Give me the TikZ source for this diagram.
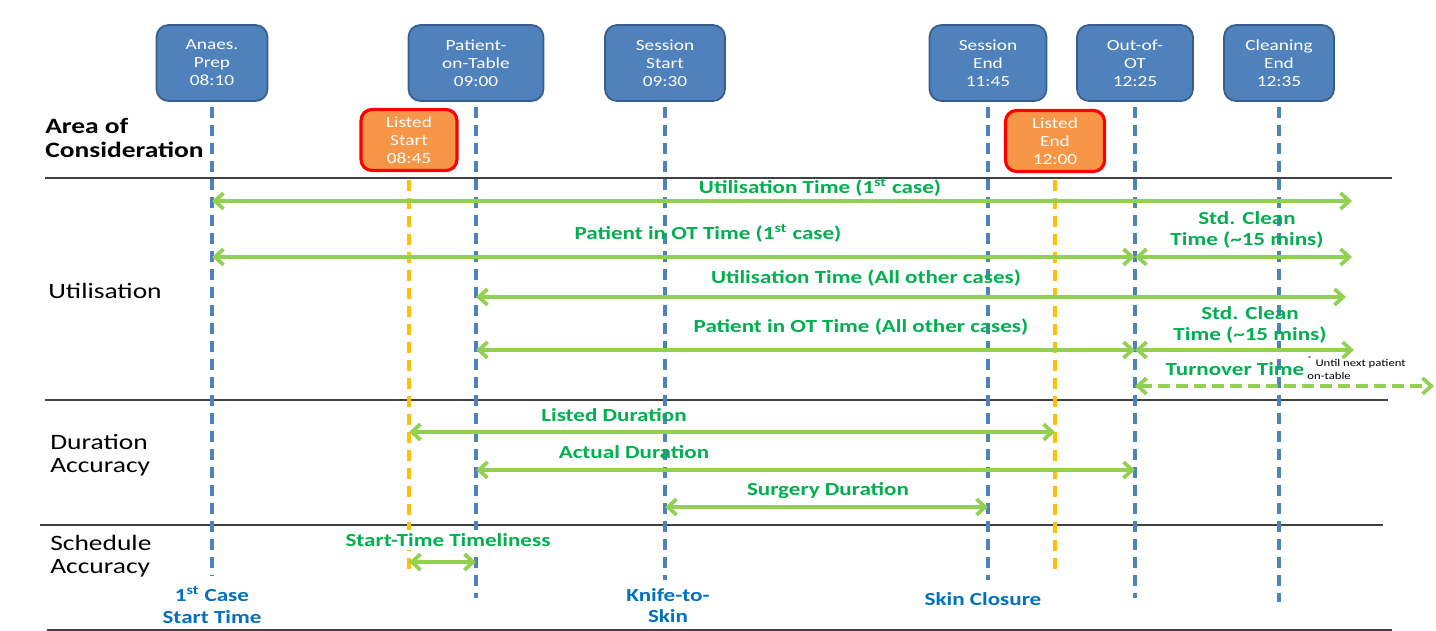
\documentclass[tikz,border=0pt]{standalone}
\usepackage{fontspec}
\setmainfont{Carlito}[FakeStretch=1.25]
\usetikzlibrary{arrows.meta}
\definecolor{evblue}{HTML}{4F81BD}
\definecolor{evedge}{HTML}{385D8A}
\definecolor{lsorange}{HTML}{F79646}
\definecolor{lsred}{HTML}{FF0000}
\definecolor{vyellow}{HTML}{FFC000}
\definecolor{arrgreen}{HTML}{92D050}
\definecolor{lblgreen}{HTML}{00B050}
\definecolor{lblblue}{HTML}{0070C0}
\definecolor{sepgray}{HTML}{404040}
\tikzset{
  evt/.style={rectangle, rounded corners=0.24cm, fill=evblue, draw=evedge, line width=1pt,
    text=white, align=center, font=\fontsize{8.8}{10.2}\selectfont, minimum height=1.52cm, inner sep=0pt},
  lst/.style={rectangle, rounded corners=0.22cm, fill=lsorange, draw=lsred, line width=1.8pt,
    text=white, align=center, font=\fontsize{8.8}{10.2}\selectfont, minimum height=1.22cm, inner sep=0pt},
  bdash/.style={draw=evblue, line width=2pt, dash pattern=on 0.22cm off 0.14cm},
  ydash/.style={draw=vyellow, line width=2pt, dash pattern=on 0.22cm off 0.14cm},
  garr/.style={draw=arrgreen, line width=2.1pt, {Straight Barb[length=5pt,width=9pt]}-{Straight Barb[length=5pt,width=9pt]}},
  gdarr/.style={garr, dash pattern=on 0.24cm off 0.12cm},
  glbl/.style={text=lblgreen, font=\fontsize{10.5}{12}\selectfont\bfseries, inner sep=0pt, align=center},
  blbl/.style={text=lblblue, font=\fontsize{10.5}{12}\selectfont\bfseries, inner sep=0pt, align=center},
  seclbl/.style={text=black, font=\fontsize{12.5}{13.2}\selectfont, inner sep=0pt, anchor=west, align=left},
  sepline/.style={draw=sepgray, line width=1.1pt},
  fnote/.style={text=black, font=\fontsize{5.8}{7.2}\selectfont, inner sep=0pt, anchor=west, align=left}
}
\begin{document}
\begin{tikzpicture}[x=0.02cm,y=-0.02cm]
\useasboundingbox (0,0) rectangle (1436,631);
% separators
\draw[sepline] (45,178) -- (1392,178);
\draw[sepline] (45,400) -- (1388,400);
\draw[sepline] (40,525) -- (1383,525);
\draw[sepline] (47,630) -- (1392,630);
% event boxes
\node[evt, minimum width=2.22cm] (anaes) at (212,63) {Anaes.\\Prep\\08:10};
\node[evt, minimum width=2.7cm] (pot) at (476,63) {Patient-\\on-Table\\09:00};
\node[evt, minimum width=2.4cm] (sstart) at (665,63) {Session\\Start\\09:30};
\node[evt, minimum width=2.34cm] (send) at (988,63) {Session\\End\\11:45};
\node[evt, minimum width=2.32cm] (oot) at (1135,63) {Out-of-\\OT\\12:25};
\node[evt, minimum width=2.2cm] (clean) at (1279,63) {Cleaning\\End\\12:35};
\node[lst, minimum width=1.92cm] (lstart) at (409,140) {Listed\\Start\\08:45};
\node[lst, minimum width=1.98cm] (lend) at (1055,141) {Listed\\End\\12:00};
% line bottoms
\coordinate (anaesB) at (212,575);
\coordinate (potB) at (476,598);
\coordinate (sstartB) at (665,580);
\coordinate (sendB) at (988,580);
\coordinate (ootB) at (1135,598);
\coordinate (cleanB) at (1279,602);
\coordinate (lstartB) at (409,575);
\coordinate (lendB) at (1055,575);
% vertical dashed lines
\draw[bdash] ([yshift=-0.1cm]anaes.south) -- (anaesB);
\draw[bdash] ([yshift=-0.1cm]pot.south) -- (potB);
\draw[bdash] ([yshift=-0.1cm]sstart.south) -- (sstartB);
\draw[bdash] ([yshift=-0.1cm]send.south) -- (sendB);
\draw[bdash] ([yshift=-0.1cm]oot.south) -- (ootB);
\draw[bdash] ([yshift=-0.1cm]clean.south) -- (cleanB);
\draw[ydash] ([yshift=-0.16cm]lstart.south) -- (lstartB);
\draw[ydash] ([yshift=-0.14cm]lend.south) -- (lendB);
% section labels
\node[seclbl, font=\fontsize{12.5}{13.4}\selectfont\bfseries] (aoc) at (45,138) {Area of\\Consideration};
\node[seclbl] (util) at (48,291) {Utilisation};
\node[seclbl] (dacc) at (50,455) {Duration\\Accuracy};
\node[seclbl] (sacc) at (50,556) {Schedule\\Accuracy};
% right free ends
\coordinate (r1) at (1352,201);
\coordinate (r2) at (1352,257);
\coordinate (r3) at (1346,297);
\coordinate (r4) at (1354,350);
\coordinate (r5) at (1434,386);
% utilisation arrows
\draw[garr] (anaes |- 0,201) -- (r1);
\node[glbl] (t1) at (820,187) {Utilisation Time (1\textsuperscript{st} case)};
\draw[garr] (anaes |- 0,257) -- (oot |- 0,257);
\draw[garr] (oot |- 0,257) -- (r2);
\node[glbl] (t2) at (708,233) {Patient in OT Time (1\textsuperscript{st} case)};
\node[glbl] (t3) at (1247,230) {Std. Clean\\Time (\textasciitilde15 mins)};
\draw[garr] (pot |- 0,297) -- (r3);
\node[glbl] (t4) at (866,278) {Utilisation Time (All other cases)};
\draw[garr] (pot |- 0,350) -- (oot |- 0,350);
\draw[garr] (oot |- 0,350) -- (r4);
\node[glbl] (t5) at (861,327) {Patient in OT Time (All other cases)};
\node[glbl] (t6) at (1250,325) {Std. Clean\\Time (\textasciitilde15 mins)};
\draw[gdarr] (oot |- 0,386) -- (r5);
\node[glbl] (t7) at (1235,369) {Turnover Time};
\node[fnote] (fn) at (1307,368) {\textsuperscript{*} Until next patient\\on-table};
% duration accuracy
\draw[garr] (lstart |- 0,432) -- (lend |- 0,432);
\node[glbl] (t8) at (614,415) {Listed Duration};
\draw[garr] (pot |- 0,470) -- (oot |- 0,470);
\node[glbl] (t9) at (634,452) {Actual Duration};
\draw[garr] (sstart |- 0,507) -- (send |- 0,507);
\node[glbl] (t10) at (828,491) {Surgery Duration};
% schedule accuracy
\draw[garr] (lstart |- 0,562) -- (pot |- 0,562);
\node[glbl, fill=white, inner sep=2pt] (t11) at (448,540) {Start-Time Timeliness};
% bottom labels
\node[blbl] (b1) at (212,605) {1\textsuperscript{st} Case\\Start Time};
\node[blbl] (b2) at (668,606) {Knife-to-\\Skin};
\node[blbl] (b3) at (983,599) {Skin Closure};
\end{tikzpicture}
\end{document}
